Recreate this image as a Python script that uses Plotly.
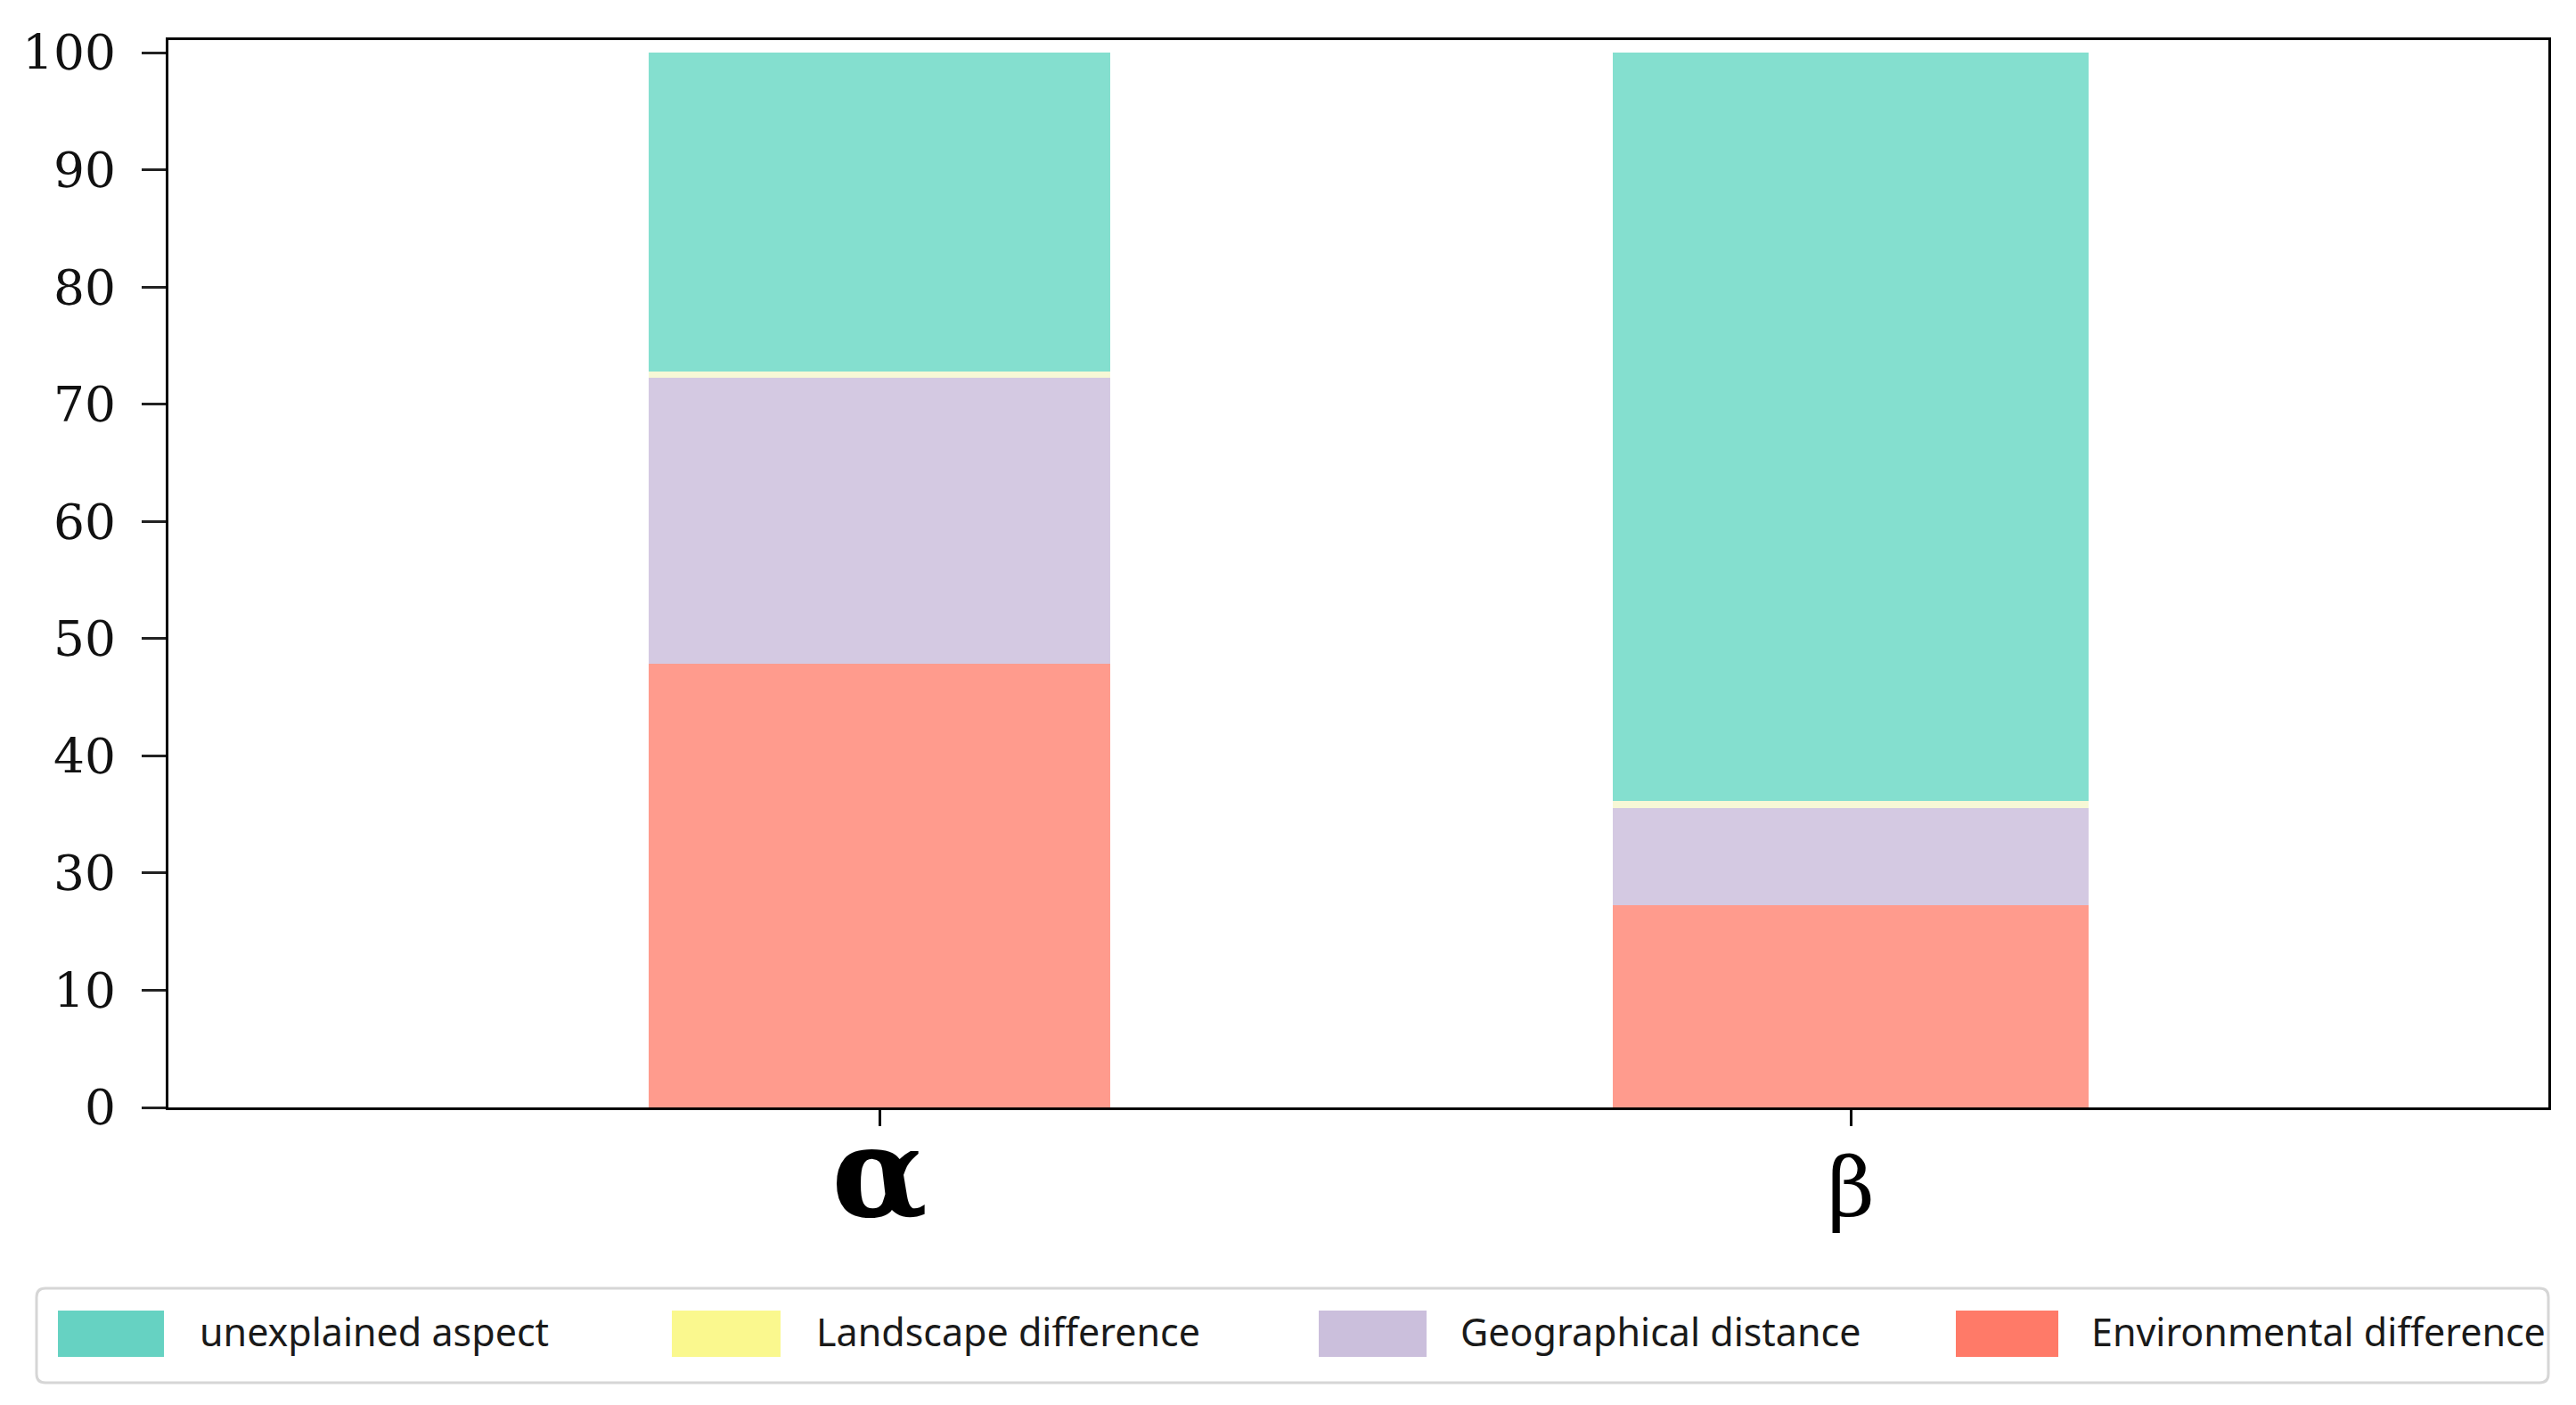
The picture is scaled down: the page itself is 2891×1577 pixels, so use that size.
import plotly.graph_objects as go
import numpy as np

# ---------------- data ----------------
categories = ["α", "β"]
environmental = [42.1, 19.2]
geographical = [27.1, 9.2]
landscape = [0.6, 0.7]
unexplained = [30.2, 70.9]
y_tick_labels = ["0", "10", "30", "40", "50", "60", "70", "80", "90", "100"]
legend_names = ["unexplained aspect", "Landscape difference",
                "Geographical distance", "Environmental difference"]

# ---------------- styles ----------------
bar_colors = {
    "Environmental difference": "#FF9B8D",
    "Geographical distance": "#D4C9E2",
    "Landscape difference": "#F7F8D6",
    "unexplained aspect": "#84DFCF",
}
legend_colors = {
    "unexplained aspect": "#66D2C2",
    "Landscape difference": "#FAF88E",
    "Geographical distance": "#CBBFDC",
    "Environmental difference": "#FF7A68",
}
bar_widths = [0.475, 0.49]

W, H = 2891, 1577
ML, MR, MT, MB = 189, 31, 45, 334
PW, PH = W - ML - MR, H - MT - MB


def fx(px):
    return (px - ML) / PW


def fy(py):
    return (H - MB - py) / PH


fig = go.Figure()
x_idx = list(range(len(categories)))
for name, vals in [("Environmental difference", environmental),
                   ("Geographical distance", geographical),
                   ("Landscape difference", landscape),
                   ("unexplained aspect", unexplained)]:
    fig.add_trace(go.Bar(
        x=x_idx, y=vals, name=name, width=bar_widths,
        marker=dict(color=bar_colors[name], line=dict(width=0)),
        showlegend=False,
    ))

tick_text_x = ["<span style='font-size:140px'><b>" + categories[0] + "</b></span>",
               "<span style='font-size:92px'>" + categories[1] + "</span>"]

fig.update_layout(
    width=W, height=H,
    margin=dict(l=ML, r=MR, t=MT, b=MB, pad=0),
    barmode="stack",
    plot_bgcolor="white",
    paper_bgcolor="white",
    xaxis=dict(
        range=[-0.732, 1.718],
        tickvals=x_idx, ticktext=tick_text_x,
        showline=True, linecolor="black", linewidth=3, mirror=True,
        ticks="outside", ticklen=18, tickwidth=3, tickcolor="black",
        showgrid=False, zeroline=False,
        tickfont=dict(family="DejaVu Serif", size=84, color="black"),
        ticklabelstandoff=0,
    ),
    yaxis=dict(
        range=[0, 101.2],
        tickvals=list(np.linspace(0, 100, len(y_tick_labels))),
        ticktext=y_tick_labels,
        showline=True, linecolor="black", linewidth=3, mirror=True,
        ticks="outside", ticklen=27, tickwidth=3, tickcolor="#222",
        showgrid=False, zeroline=False,
        tickfont=dict(family="DejaVu Serif", size=55, color="#111"),
        ticklabelstandoff=18,
    ),
)

# ---------------- legend (drawn) ----------------
bx0, bx1, by0, by1, r = 41, 2860, 1446, 1552, 10


def P(px, py):
    return f"{fx(px):.6f},{fy(py):.6f}"


path = (f"M {P(bx0 + r, by0)} L {P(bx1 - r, by0)} Q {P(bx1, by0)} {P(bx1, by0 + r)} "
        f"L {P(bx1, by1 - r)} Q {P(bx1, by1)} {P(bx1 - r, by1)} "
        f"L {P(bx0 + r, by1)} Q {P(bx0, by1)} {P(bx0, by1 - r)} "
        f"L {P(bx0, by0 + r)} Q {P(bx0, by0)} {P(bx0 + r, by0)} Z")
fig.add_shape(type="path", path=path, xref="paper", yref="paper",
              line=dict(color="#D6D6D6", width=3), fillcolor="white", layer="below")

swatch_x = [(65, 184), (754, 876), (1480, 1601), (2195, 2310)]
text_x = [222, 914, 1637, 2345]
sw_y0, sw_y1, text_yc = 1471, 1523, 1494
for name, (sx0, sx1), tx in zip(legend_names, swatch_x, text_x):
    fig.add_shape(type="rect", xref="paper", yref="paper",
                  x0=fx(sx0), x1=fx(sx1), y0=fy(sw_y1), y1=fy(sw_y0),
                  fillcolor=legend_colors[name], line=dict(width=0))
    fig.add_annotation(text=name, xref="paper", yref="paper",
                       x=fx(tx), y=fy(text_yc), xanchor="left", yanchor="middle",
                       showarrow=False,
                       font=dict(family="Noto Sans", size=43, color="#1a1a1a"))

fig.write_html("out.html", config={"displayModeBar": False},
               post_script="document.body.style.margin='0';document.body.style.overflow='hidden';")
